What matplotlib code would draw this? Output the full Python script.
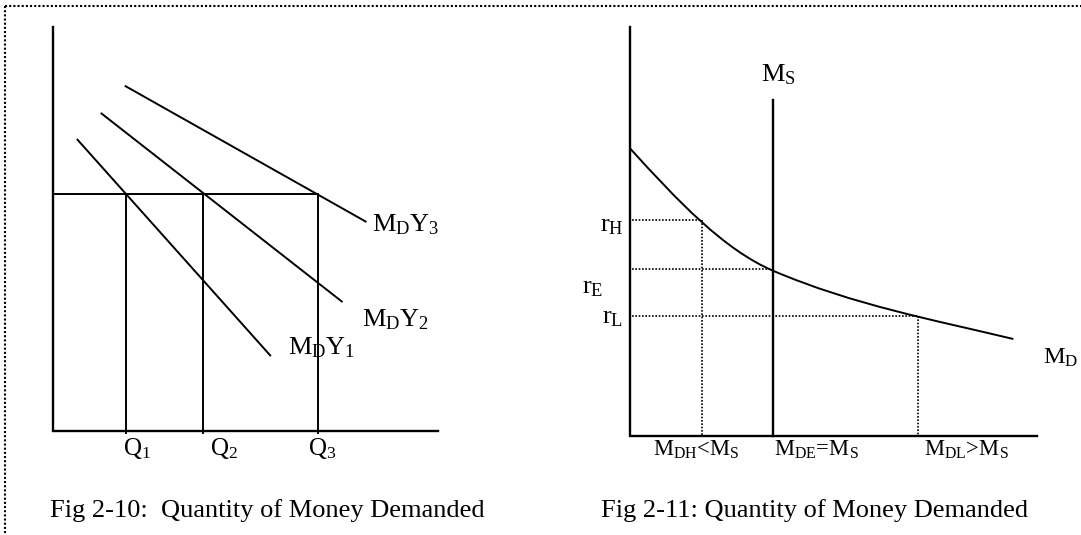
import matplotlib
matplotlib.use("Agg")
import matplotlib.pyplot as plt
from matplotlib.path import Path
from matplotlib.patches import PathPatch

plt.rcParams['font.family'] = ['Liberation Serif', 'DejaVu Serif']
plt.rcParams['mathtext.fontset'] = 'custom'
plt.rcParams['mathtext.rm'] = 'Liberation Serif'
plt.rcParams['mathtext.it'] = 'Liberation Serif:italic'
plt.rcParams['mathtext.bf'] = 'Liberation Serif:bold'

W, H = 1081, 535

# ---------------- data (pixel-space diagram coordinates) ----------------
# Left figure: demand lines for three income levels
demand_names = ['M_DY_1', 'M_DY_2', 'M_DY_3']
demand_x0 = [77.5, 101.5, 125.6]
demand_y0 = [139.7, 113.5, 86.2]
demand_x1 = [270.2, 341.8, 365.6]
demand_y1 = [355.4, 301.5, 221.5]
demand_label_x = [288.3, 361.7, 371.7]
demand_label_y = [354.3, 326.7, 231.7]

left_origin = (53.0, 431.0)
left_y_top = 27.0
left_x_right = 438.0
rate_level_y = 194.0
q_x = [126.0, 203.3, 317.7]
q_labels = ['Q_1', 'Q_2', 'Q_3']
q_label_x = [123.0, 210.0, 308.0]
q_label_y = 455.0

# Right figure: money market
right_origin = (630.0, 436.0)
right_y_top = 27.0
right_x_right = 1037.0
ms_x = 773.4
ms_top = 99.5
# money demand curve: anchor/control points of two cubic Bezier pieces
md_pts_x = [630.5, 677.0, 723.4, 773.4, 853.4, 933.3, 1013.3]
md_pts_y = [148.9, 200.0, 249.6, 270.9, 304.9, 319.8, 339.0]
rate_names = ['r_H', 'r_E', 'r_L']
rate_y = [220.0, 268.5, 316.0]
rate_qx = [702.0, 773.4, 918.0]
rate_label_x = [623.5, 581.7, 623.5]
rate_label_y = [231.0, 293.3, 323.3]
rate_label_ha = ['right', 'left', 'right']
qty_labels = [r'$\mathrm{M_{DH}}$<$\mathrm{M_S}$',
              r'$\mathrm{M_{DE}}$=$\mathrm{M_S}$',
              r'$\mathrm{M_{DL}}$>$\mathrm{M_S}$']
qty_label_x = [652.7, 774.0, 923.8]
qty_label_y = 455.5

captions = ['Fig 2-10:  Quantity of Money Demanded',
            'Fig 2-11: Quantity of Money Demanded']
caption_x = [49.5, 601.3]
caption_y = 516.5

# ---------------- drawing ----------------
fig = plt.figure(figsize=(W / 100, H / 100), dpi=100)
ax = fig.add_axes([0, 0, 1, 1])
ax.set_xlim(0, W)
ax.set_ylim(H, 0)
ax.axis('off')

K = 'black'
axis_lw = 1.7
line_lw = 1.4
dot = (0, (1, 1))

# dotted frame (top and left)
ax.plot([5, W], [6, 6], color=K, lw=1.5, ls=dot)
ax.plot([5, 5], [6, H], color=K, lw=1.5, ls=dot)

# left axes
ox, oy = left_origin
ax.plot([ox, ox, left_x_right], [left_y_top, oy, oy], color=K, lw=axis_lw,
        solid_joinstyle='miter')
ax.plot([ox, q_x[-1]], [rate_level_y, rate_level_y], color=K, lw=line_lw)
for qx in q_x:
    ax.plot([qx, qx], [rate_level_y, oy + 2], color=K, lw=line_lw)
for x0, y0, x1, y1 in zip(demand_x0, demand_y0, demand_x1, demand_y1):
    ax.plot([x0, x1], [y0, y1], color=K, lw=line_lw)
for name, lx, ly in zip(demand_names, demand_label_x, demand_label_y):
    ax.text(lx, ly, r'$\mathrm{' + name + '}$', fontsize=19, ha='left',
            va='baseline', color=K)
for name, lx in zip(q_labels, q_label_x):
    ax.text(lx, q_label_y, r'$\mathrm{' + name + '}$', fontsize=18, ha='left',
            va='baseline', color=K)

# right axes
rx, ry = right_origin
ax.plot([rx, rx, right_x_right], [right_y_top, ry, ry], color=K, lw=axis_lw,
        solid_joinstyle='miter')
ax.plot([ms_x, ms_x], [ms_top, ry], color=K, lw=axis_lw)
ax.text(761.3, 81.8, r'$\mathrm{M_S}$', fontsize=19, ha='left', va='baseline')

verts = list(zip(md_pts_x, md_pts_y))
codes = [Path.MOVETO] + [Path.CURVE4] * 6
ax.add_patch(PathPatch(Path(verts, codes), facecolor='none', edgecolor=K,
                       lw=line_lw))
ax.text(1042.7, 363.3, r'$\mathrm{M_D}$', fontsize=17.5, ha='left', va='baseline')

for i, (yy, qx) in enumerate(zip(rate_y, rate_qx)):
    ax.plot([rx + 2, qx], [yy, yy], color=K, lw=1.2, ls=dot)
    if i != 1:
        ax.plot([qx, qx], [yy, ry - 1], color=K, lw=1.2, ls=dot)
for name, lx, ly, ha in zip(rate_names, rate_label_x, rate_label_y, rate_label_ha):
    ax.text(lx, ly, r'$\mathrm{' + name + '}$', fontsize=19, ha=ha,
            va='baseline')
for lab, lx in zip(qty_labels, qty_label_x):
    ax.text(lx, qty_label_y, lab, fontsize=16.3, ha='left', va='baseline')

for cap, cx in zip(captions, caption_x):
    ax.text(cx, caption_y, cap, fontsize=19, ha='left', va='baseline')

fig.savefig('out.png', dpi=100)
